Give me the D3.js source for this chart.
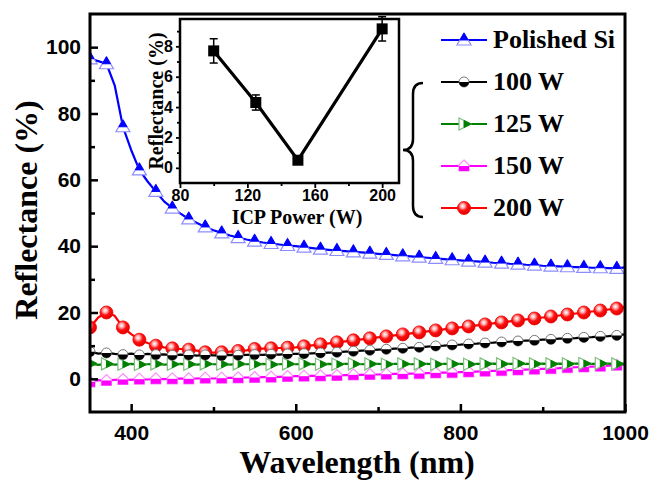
<!DOCTYPE html>
<html>
<head>
<meta charset="utf-8">
<script src="https://cdn.jsdelivr.net/npm/d3@7"></script>
<style>
  body { margin: 0; background: #fff; }
</style>
</head>
<body>
<div id="chart"></div>
<script>
// main spectra, 10 nm steps
let wavelength = [350,360,370,380,390,400,410,420,430,440,450,460,470,480,490,500,510,520,530,540,
  550,560,570,580,590,600,610,620,630,640,650,660,670,680,690,700,710,720,730,740,
  750,760,770,780,790,800,810,820,830,840,850,860,870,880,890,900,910,920,930,940,
  950,960,970,980,990,1000];
let polishedSi = [96.5,95.8,95.0,88.5,76.0,69.0,63.0,59.5,56.5,53.5,51.5,49.8,48.2,47.0,45.8,44.8,44.0,43.2,42.6,42.0,
  41.5,41.1,40.8,40.5,40.2,40.0,39.7,39.4,39.1,38.9,38.7,38.5,38.3,38.1,37.9,37.7,37.5,37.3,37.1,36.9,
  36.7,36.5,36.3,36.1,35.9,35.7,35.5,35.4,35.2,35.0,34.9,34.7,34.6,34.4,34.3,34.1,34.0,33.9,33.8,33.7,
  33.6,33.5,33.5,33.4,33.3,33.6];
let w100 = [8.2,7.6,7.8,7.5,7.3,7.6,7.2,7.5,7.3,7.4,7.1,7.3,7.2,7.0,7.2,7.1,7.0,7.2,7.1,7.2,
  7.3,7.2,7.4,7.3,7.5,7.5,7.6,7.7,7.8,7.9,8.0,8.2,8.3,8.5,8.6,8.8,8.9,9.1,9.2,9.4,
  9.5,9.7,9.9,10.0,10.2,10.3,10.5,10.6,10.8,10.9,11.1,11.2,11.4,11.5,11.6,11.8,11.9,12.1,12.2,12.3,
  12.5,12.6,12.8,12.9,13.1,13.4];
let w125 = [4.6,4.2,4.5,4.3,4.4,4.5,4.3,4.4,4.5,4.3,4.4,4.5,4.4,4.3,4.5,4.4,4.4,4.3,4.5,4.4,
  4.4,4.5,4.3,4.4,4.5,4.4,4.5,4.4,4.4,4.5,4.4,4.5,4.5,4.4,4.5,4.5,4.4,4.5,4.5,4.4,
  4.5,4.5,4.4,4.5,4.5,4.5,4.4,4.5,4.5,4.6,4.5,4.5,4.6,4.5,4.5,4.6,4.5,4.6,4.5,4.6,
  4.6,4.5,4.6,4.6,4.5,4.6];
let w150 = [-0.9,-0.4,-0.5,-0.3,-0.2,-0.3,-0.1,-0.2,0.0,-0.1,0.0,0.1,0.0,0.1,0.2,0.1,0.2,0.3,0.3,0.4,
  0.4,0.5,0.5,0.6,0.7,0.8,0.8,0.9,0.9,1.0,1.0,1.1,1.2,1.2,1.3,1.3,1.4,1.5,1.5,1.6,
  1.6,1.7,1.8,1.9,1.9,2.0,2.1,2.2,2.3,2.4,2.5,2.6,2.7,2.8,2.9,3.0,3.1,3.2,3.4,3.5,
  3.6,3.7,3.8,4.0,4.1,4.2];
let w200 = [15.5,18.5,20.0,19.0,15.5,13.5,11.8,10.8,10.0,9.5,9.2,9.0,8.8,8.5,8.0,7.9,8.0,8.2,8.4,8.6,
  9.0,9.1,9.2,9.3,9.4,9.5,9.8,10.1,10.4,10.7,11.0,11.3,11.6,11.9,12.2,12.5,12.8,13.1,13.4,13.7,
  14.0,14.3,14.6,14.9,15.2,15.5,15.8,16.1,16.4,16.7,17.0,17.3,17.6,17.9,18.2,18.5,18.8,19.1,19.4,19.7,
  20.0,20.3,20.6,20.9,21.2,21.6];
let seriesNames = ['Polished Si', '100 W', '125 W', '150 W', '200 W'];

// inset
let icpPower = [100, 125, 150, 200];
let icpReflect = [7.7, 4.3, 0.5, 9.15];
let icpError = [0.8, 0.5, 0.2, 0.8];

// ticks
let xTicks = [400, 600, 800, 1000];
let xMinor = [500, 700, 900];
let yTicks = [0, 20, 40, 60, 80, 100];
let yMinor = [10, 30, 50, 70, 90];
let insetXTicks = [80, 120, 160, 200];
let insetXMinor = [100, 140, 180];
let insetYTicks = [0, 2, 4, 6, 8];
let insetYMinor = [1, 3, 5, 7, 9];

let series = [
  {name: seriesNames[0], values: polishedSi, color: '#0000ff', light: '#8c8cff', mark: 'tri'},
  {name: seriesNames[4], values: w200, color: '#ff0000', light: '#ff0000', mark: 'ball'},
  {name: seriesNames[3], values: w150, color: '#ff00ff', light: '#ff8cff', mark: 'house'},
  {name: seriesNames[2], values: w125, color: '#008000', light: '#7fbf7f', mark: 'right'},
  {name: seriesNames[1], values: w100, color: '#000000', light: '#777777', mark: 'circ'}
];
let legendOrder = ['Polished Si', '100 W', '125 W', '150 W', '200 W'];

let W = 655, H = 482;
let tickFont = '"Liberation Sans", Arial, sans-serif';
let titleFont = '"Liberation Serif", "Times New Roman", serif';

let svg = d3.select('#chart').append('svg')
  .attr('width', W).attr('height', H)
  .style('display', 'block');
svg.append('rect').attr('width', W).attr('height', H).attr('fill', '#fff');

let defs = svg.append('defs');
let grad = defs.append('radialGradient').attr('id', 'ball')
  .attr('cx', '40%').attr('cy', '35%').attr('r', '65%');
grad.append('stop').attr('offset', '0%').attr('stop-color', '#ffffff');
grad.append('stop').attr('offset', '25%').attr('stop-color', '#ffb0b0');
grad.append('stop').attr('offset', '55%').attr('stop-color', '#ff1010');
grad.append('stop').attr('offset', '100%').attr('stop-color', '#e00000');

let x = d3.scaleLinear().domain([350, 1000]).range([90, 625]);
let y = d3.scaleLinear().domain([-10, 110]).range([412, 14]);

defs.append('clipPath').attr('id', 'plotclip')
  .append('rect').attr('x', 90).attr('y', 14).attr('width', 535).attr('height', 398);

function drawMarker(g, s) {
  if (s.mark === 'tri') {
    g.append('path').attr('d', 'M0,-7L7,5L-7,5Z').attr('fill', '#fff')
      .attr('stroke', s.light).attr('stroke-width', 1.2);
    g.append('path').attr('d', 'M0,-7L4.1,0L-4.1,0Z').attr('fill', s.color)
      .attr('stroke', s.color).attr('stroke-width', 1);
  } else if (s.mark === 'circ') {
    g.append('circle').attr('r', 5).attr('fill', '#fff')
      .attr('stroke', s.light).attr('stroke-width', 1);
    g.append('path').attr('d', 'M-5,0A5,5 0 0 0 5,0Z').attr('fill', s.color);
  } else if (s.mark === 'right') {
    g.append('path').attr('d', 'M-5,-6L7,0L-5,6Z').attr('fill', '#fff')
      .attr('stroke', s.light).attr('stroke-width', 1.2);
    g.append('path').attr('d', 'M0,-3.5L7,0L0,3.5Z').attr('fill', s.color)
      .attr('stroke', s.color).attr('stroke-width', 1);
  } else if (s.mark === 'house') {
    g.append('path').attr('d', 'M0,-6L5,-1L5,5L-5,5L-5,-1Z').attr('fill', '#fff')
      .attr('stroke', s.light).attr('stroke-width', 1.2);
    g.append('rect').attr('x', -5).attr('y', 0).attr('width', 10).attr('height', 5)
      .attr('fill', s.color);
  } else if (s.mark === 'ball') {
    g.append('circle').attr('r', 6.5).attr('fill', 'url(#ball)')
      .attr('stroke', '#ee0000').attr('stroke-width', 0.8);
  }
}

// data
let plot = svg.append('g').attr('clip-path', 'url(#plotclip)');
let line = d3.line().x((d, i) => x(wavelength[i])).y(d => y(d));
series.forEach(s => {
  let g = plot.append('g');
  g.append('path').datum(s.values)
    .attr('d', line)
    .attr('fill', 'none')
    .attr('stroke', s.color)
    .attr('stroke-width', 2.2)
    .attr('stroke-linejoin', 'round');
  s.values.forEach((v, i) => {
    if (i % 2 !== 0) return;
    let m = g.append('g').attr('transform', `translate(${x(wavelength[i])},${y(v)})`);
    drawMarker(m, s);
  });
});

// main axes (ticks inside)
function styleAxis(g, size) {
  g.select('.domain').remove();
  g.selectAll('line').attr('stroke', '#000').attr('stroke-width', 2.5);
  g.selectAll('text').attr('font-family', tickFont).attr('font-weight', 'bold')
    .attr('font-size', size).attr('fill', '#000');
}
svg.append('g').attr('transform', 'translate(0,412)')
  .call(d3.axisBottom(x).tickValues(xTicks).tickSize(-8).tickPadding(13).tickFormat(d3.format('d')))
  .call(g => styleAxis(g, 21));
svg.append('g').attr('transform', 'translate(0,412)')
  .call(d3.axisBottom(x).tickValues(xMinor).tickSize(-5).tickFormat(''))
  .call(g => styleAxis(g, 21));
svg.append('g').attr('transform', 'translate(90,0)')
  .call(d3.axisLeft(y).tickValues(yTicks).tickSize(-8).tickPadding(9).tickFormat(d3.format('d')))
  .call(g => styleAxis(g, 21));
svg.append('g').attr('transform', 'translate(90,0)')
  .call(d3.axisLeft(y).tickValues(yMinor).tickSize(-5).tickFormat(''))
  .call(g => styleAxis(g, 21));

svg.append('rect').attr('x', 90).attr('y', 14).attr('width', 535).attr('height', 398)
  .attr('fill', 'none').attr('stroke', '#000').attr('stroke-width', 3);

svg.append('text')
  .attr('transform', 'translate(37,210) rotate(-90)')
  .attr('text-anchor', 'middle')
  .attr('font-family', titleFont).attr('font-weight', 'bold').attr('font-size', 32)
  .text('Reflectance (%)');
svg.append('text')
  .attr('x', 357).attr('y', 473)
  .attr('text-anchor', 'middle')
  .attr('font-family', titleFont).attr('font-weight', 'bold').attr('font-size', 32)
  .text('Wavelength (nm)');

// inset
let ix = d3.scaleLinear().domain([80, 210]).range([180, 399]);
let iy = d3.scaleLinear().domain([-1, 9.8]).range([183, 19]);
let inset = svg.append('g');
inset.append('rect').attr('x', 180).attr('y', 19).attr('width', 219).attr('height', 164)
  .attr('fill', '#fff').attr('stroke', 'none');
inset.append('path').datum(icpReflect)
  .attr('d', d3.line().x((d, i) => ix(icpPower[i])).y(d => iy(d)))
  .attr('fill', 'none').attr('stroke', '#000').attr('stroke-width', 3.2);
icpReflect.forEach((v, i) => {
  let cx = ix(icpPower[i]);
  let top = iy(v + icpError[i]), bot = iy(v - icpError[i]);
  inset.append('line').attr('x1', cx).attr('x2', cx).attr('y1', top).attr('y2', bot)
    .attr('stroke', '#000').attr('stroke-width', 1.5);
  [top, bot].forEach(yy => inset.append('line')
    .attr('x1', cx - 4).attr('x2', cx + 4).attr('y1', yy).attr('y2', yy)
    .attr('stroke', '#000').attr('stroke-width', 1.5));
  inset.append('rect').attr('x', cx - 5.5).attr('y', iy(v) - 5.5)
    .attr('width', 11).attr('height', 11).attr('fill', '#000');
});
inset.append('g').attr('transform', 'translate(0,183)')
  .call(d3.axisBottom(ix).tickValues(insetXTicks).tickSize(5).tickPadding(2))
  .call(g => styleAxis(g, 16));
inset.append('g').attr('transform', 'translate(0,183)')
  .call(d3.axisBottom(ix).tickValues(insetXMinor).tickSize(3).tickFormat(''))
  .call(g => styleAxis(g, 16));
inset.append('g').attr('transform', 'translate(180,0)')
  .call(d3.axisLeft(iy).tickValues(insetYTicks).tickSize(4).tickPadding(3))
  .call(g => styleAxis(g, 16));
inset.append('g').attr('transform', 'translate(180,0)')
  .call(d3.axisLeft(iy).tickValues(insetYMinor).tickSize(3).tickFormat(''))
  .call(g => styleAxis(g, 16));
inset.selectAll('.tick line').attr('stroke-width', 1.8);
inset.append('rect').attr('x', 180).attr('y', 19).attr('width', 219).attr('height', 164)
  .attr('fill', 'none').attr('stroke', '#000').attr('stroke-width', 2.5);
inset.append('text')
  .attr('transform', 'translate(163,101) rotate(-90)')
  .attr('text-anchor', 'middle')
  .attr('font-family', titleFont).attr('font-weight', 'bold').attr('font-size', 20)
  .text('Reflectance (%)');
inset.append('text')
  .attr('x', 297).attr('y', 224)
  .attr('text-anchor', 'middle')
  .attr('font-family', titleFont).attr('font-weight', 'bold').attr('font-size', 20)
  .text('ICP Power (W)');

// legend
let legend = svg.append('g');
legendOrder.forEach((name, i) => {
  let s = series.find(d => d.name === name);
  let ly = 40 + i * 42;
  legend.append('line').attr('x1', 441).attr('x2', 487).attr('y1', ly).attr('y2', ly)
    .attr('stroke', s.color).attr('stroke-width', 2);
  drawMarker(legend.append('g').attr('transform', `translate(464,${ly})`), s);
  legend.append('text').attr('x', 493).attr('y', ly + 8)
    .attr('font-family', titleFont).attr('font-weight', 'bold').attr('font-size', 26)
    .text(name);
});
legend.append('path')
  .attr('d', 'M423,83 Q413,83 413,94 L413,139 Q413,150 403,150 Q413,150 413,161 L413,206 Q413,217 423,217')
  .attr('fill', 'none').attr('stroke', '#000').attr('stroke-width', 2.5);
</script>
</body>
</html>
